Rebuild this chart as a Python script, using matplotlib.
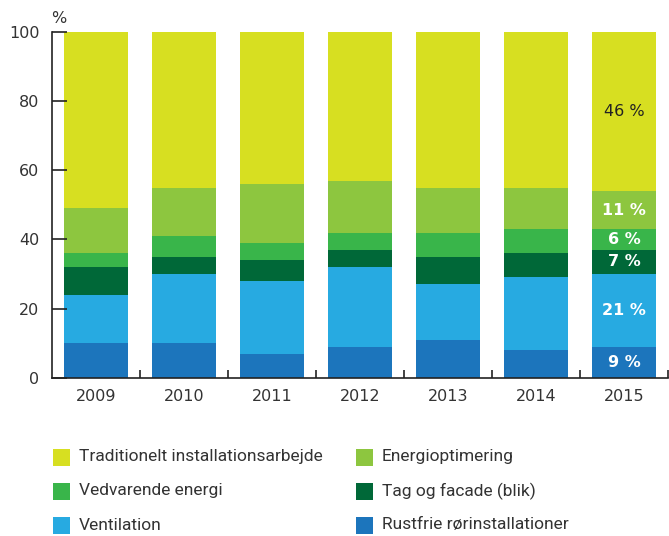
import matplotlib
matplotlib.use('Agg')
import matplotlib.pyplot as plt
import numpy as np
from matplotlib.patches import Rectangle

years = ['2009', '2010', '2011', '2012', '2013', '2014', '2015']
rustfrie = [10, 10, 7, 9, 11, 8, 9]
ventilation = [14, 20, 21, 23, 16, 21, 21]
tag_facade = [8, 5, 6, 5, 8, 7, 7]
vedvarende = [4, 6, 5, 5, 7, 7, 6]
energiopt = [13, 14, 17, 15, 13, 12, 11]
traditionelt = [51, 45, 44, 43, 45, 45, 46]

series = [
    ('Rustfrie rørinstallationer', rustfrie, '#1c75bc'),
    ('Ventilation', ventilation, '#27aae1'),
    ('Tag og facade (blik)', tag_facade, '#006838'),
    ('Vedvarende energi', vedvarende, '#39b54a'),
    ('Energioptimering', energiopt, '#8dc63f'),
    ('Traditionelt installationsarbejde', traditionelt, '#d7df21'),
]

fig = plt.figure(figsize=(6.69, 5.36), dpi=100)
ax = fig.add_axes([0.0777, 0.2953, 0.9208, 0.6450])

x = np.arange(len(years))
bottom = np.zeros(len(years))
for name, vals, col in series:
    ax.bar(x, vals, width=0.727, bottom=bottom, color=col, linewidth=0, clip_on=False)
    bottom += np.array(vals)

# labels in last bar
b = 0
for name, vals, col in series:
    v = vals[-1]
    if name.startswith('Traditionelt'):
        ax.text(x[-1], b + v / 2, '%d %%' % v, ha='center', va='center',
                fontsize=11.5, color='#222222')
    else:
        ax.text(x[-1], b + v / 2, '%d %%' % v, ha='center', va='center',
                fontsize=11.5, color='white', fontweight='bold')
    b += v

ax.set_xlim(-0.5, 6.5)
ax.set_ylim(0, 100)
for s in ['top', 'right']:
    ax.spines[s].set_visible(False)
ax.spines['left'].set_color('#222222')
ax.spines['bottom'].set_color('#222222')
ax.spines['left'].set_linewidth(1.2)
ax.spines['bottom'].set_linewidth(1.2)

ax.set_yticks([0, 20, 40, 60, 80, 100])
ax.tick_params(axis='y', direction='in', length=11, width=1.2, color='#222222',
               labelsize=11.5, labelcolor='#333333', pad=9)
ax.set_xticks(x + 0.5, minor=True)
ax.set_xticks(x)
ax.set_xticklabels(years)
ax.tick_params(axis='x', which='major', length=0, labelsize=11.5, labelcolor='#333333', pad=8)
ax.tick_params(axis='x', which='minor', direction='in', length=6, width=1.2, color='#222222')

fig.text(0.088, 0.965, '%', fontsize=11.5, color='#333333', ha='center', va='center')

# legend, drawn by hand in two columns
W, H = 669.0, 536.0
leg_items = [series[5], series[4], series[3], series[2], series[1], series[0]]
col_x = [53, 356]
row_y = [457, 491, 525]
for i, (name, vals, col) in enumerate(leg_items):
    cx = col_x[i % 2]
    cy = row_y[i // 2]
    fig.add_artist(Rectangle((cx / W, 1 - (cy + 8.5) / H), 17 / W, 17 / H,
                             transform=fig.transFigure, facecolor=col, edgecolor='none'))
    fig.text((cx + 26) / W, 1 - cy / H, name, fontsize=12.5, color='#333333',
             va='center', ha='left', family='Roboto')

fig.savefig('out.png', dpi=100)
